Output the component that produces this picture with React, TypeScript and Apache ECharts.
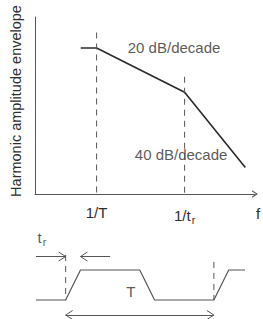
import React, { useEffect, useRef } from 'react';
import * as echarts from 'echarts';

// ---- Upper chart: harmonic amplitude envelope (x: decades relative to 1/T, y: dB) ----
const envelopeLogF = [-0.18, 0, 1, 1.69];
const envelopeDb = [0, 0, -20, -54];
const cornerLogF = [0, 1];
const cornerTopDb = [7, -13];
const cornerLabels = ['1/T', '1/t{sub|r}'];
const slopeLabels = ['20 dB/decade', '40 dB/decade'];
const slopeLabelLogF = [0.88, 0.96];
const slopeLabelDb = [0, -48];
const yAxisName = 'Harmonic amplitude envelope';
const xAxisName = 'f';

// ---- Lower chart: trapezoidal pulse train (time in units of t_r, period T = 10) ----
const waveTime = [-2, 0, 1, 5, 6, 10, 11, 12.1];
const waveLevel = [0, 0, 1, 1, 0, 0, 1, 1];
const guideTime = [0, 10];
const guideTop = [1.5, 1.27];
const riseArrowLevel = 1.45;
const riseArrowFrom = [-2, 3];
const riseArrowTo = [0, 1];
const periodArrowLevel = -0.5;
const periodArrow = [0, 10];
// arrow heads: [time, level, direction (+1 points right, -1 points left)]
const arrowHeads = [
  [riseArrowTo[0], riseArrowLevel, 1],
  [riseArrowTo[1], riseArrowLevel, -1],
  [periodArrow[0], periodArrowLevel, -1],
  [periodArrow[1], periodArrowLevel, 1],
];
const waveLabels = ['{main|t}{sub|r}', 'T'];
const waveLabelTime = [-1.6, 4.4];
const waveLabelLevel = [2.07, 0.27];

const FONT = '"Liberation Sans", Arial, sans-serif';
const TEXT = '#2e2e2e';
const CHEVRON = 'path://M0,7 L4.5,0 L9,7 L7.5,7 L4.5,2.3 L1.5,7 Z';

export default function App() {
  const ref = useRef<HTMLDivElement>(null);
  useEffect(() => {
    document.body.style.margin = '0';
    const chart = echarts.init(ref.current!, null, { renderer: 'svg' });
    const hidden = { show: false };
    const rich = {
      main: { fontSize: 15, fontFamily: FONT, color: TEXT },
      sub: { fontSize: 10.5, fontFamily: FONT, color: TEXT, padding: [9, 0, 0, 1] },
    };
    const option: any = {
      animation: false,
      grid: [
        { left: 35, top: 17, width: 220, height: 177, outerBoundsMode: 'none', containLabel: false },
        { left: 36, top: 231, width: 209, height: 87, outerBoundsMode: 'none', containLabel: false },
      ],
      xAxis: [
        {
          type: 'value', gridIndex: 0, min: -0.7, max: 1.8,
          splitLine: hidden, axisTick: hidden,
          axisLine: { show: true, onZero: false, symbol: ['none', CHEVRON], symbolSize: [8, 6], lineStyle: { color: '#555', width: 1 } },
          axisLabel: {
            show: true, customValues: cornerLogF, margin: 11,
            formatter: (v: number) => cornerLabels[cornerLogF.indexOf(v)] ?? '',
            fontSize: 15, fontFamily: FONT, color: TEXT, rich,
          },
          name: xAxisName, nameLocation: 'end', nameGap: 1,
          nameTextStyle: { fontSize: 15, fontFamily: FONT, color: TEXT, verticalAlign: 'top', padding: [12, 0, 0, 0] },
        },
        { type: 'value', gridIndex: 1, min: -2, max: 12.1, show: false },
      ],
      yAxis: [
        {
          type: 'value', gridIndex: 0, min: -66, max: 14,
          splitLine: hidden, axisTick: hidden, axisLabel: hidden,
          axisLine: { show: true, onZero: false, lineStyle: { color: '#555', width: 1 } },
          name: yAxisName, nameLocation: 'middle', nameRotate: 90, nameGap: 12,
          nameTextStyle: { fontSize: 14.5, fontFamily: FONT, color: TEXT, padding: [0, 0, 0, 9] },
        },
        { type: 'value', gridIndex: 1, min: -0.6, max: 2.3, show: false },
      ],
      series: [
        {
          type: 'line', xAxisIndex: 0, yAxisIndex: 0, symbol: 'none', silent: true,
          data: envelopeLogF.map((x, i) => [x, envelopeDb[i]]),
          lineStyle: { color: '#2a2a2a', width: 1.6 },
        },
        ...cornerLogF.map((x, i) => ({
          type: 'line', xAxisIndex: 0, yAxisIndex: 0, symbol: 'none', silent: true,
          data: [[x, cornerTopDb[i]], [x, -66]],
          lineStyle: { color: '#555', width: 1, type: [6, 5] },
        })),
        {
          type: 'scatter', xAxisIndex: 0, yAxisIndex: 0, symbolSize: 0, silent: true,
          data: slopeLabels.map((s, i) => ({ name: s, value: [slopeLabelLogF[i], slopeLabelDb[i]] })),
          label: { show: true, position: 'inside', formatter: '{b}', fontSize: 15, fontFamily: FONT, color: TEXT },
        },
        {
          type: 'line', xAxisIndex: 1, yAxisIndex: 1, symbol: 'none', silent: true,
          data: waveTime.map((t, i) => [t, waveLevel[i]]),
          lineStyle: { color: '#555', width: 1.2 },
          markLine: {
            silent: true, animation: false,
            symbol: ['none', 'none'],
            label: { show: false },
            lineStyle: { color: '#555', width: 1, type: 'solid' },
            emphasis: { disabled: true },
            data: [
              ...riseArrowFrom.map((t, i) => [
                { coord: [t, riseArrowLevel] },
                { coord: [riseArrowTo[i], riseArrowLevel] },
              ]),
              [
                { coord: [periodArrow[0], periodArrowLevel] },
                { coord: [periodArrow[1], periodArrowLevel] },
              ],
            ],
          },
        },
        {
          type: 'custom', xAxisIndex: 1, yAxisIndex: 1, silent: true,
          encode: { x: 0, y: 1 },
          data: arrowHeads,
          renderItem: (_params: any, api: any) => {
            const p = api.coord([api.value(0), api.value(1)]);
            const dir = api.value(2);
            return {
              type: 'polyline',
              shape: { points: [[p[0] - dir * 7, p[1] - 4.5], [p[0], p[1]], [p[0] - dir * 7, p[1] + 4.5]] },
              style: { stroke: '#555', lineWidth: 1, fill: 'none' },
            };
          },
        },
        ...guideTime.map((t, i) => ({
          type: 'line', xAxisIndex: 1, yAxisIndex: 1, symbol: 'none', silent: true,
          data: [[t, guideTop[i]], [t, 0]],
          lineStyle: { color: '#555', width: 1, type: [6, 5] },
        })),
        {
          type: 'scatter', xAxisIndex: 1, yAxisIndex: 1, symbolSize: 0, silent: true,
          data: waveLabels.map((s, i) => ({ name: s, value: [waveLabelTime[i], waveLabelLevel[i]] })),
          label: { show: true, position: 'inside', formatter: '{b}', fontSize: 15, fontFamily: FONT, color: TEXT, rich },
        },
      ],
    };
    chart.setOption(option);
    return () => chart.dispose();
  }, []);
  return <div ref={ref} style={{ width: 263, height: 319 }} />;
}
